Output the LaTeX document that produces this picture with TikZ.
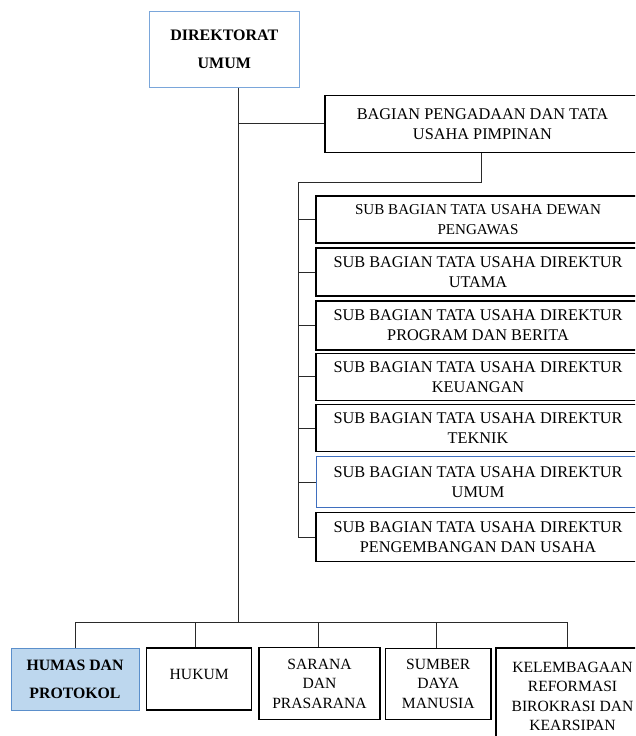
\documentclass[tikz,border=0pt]{standalone}
\usepackage{fontspec}
\setmainfont{Liberation Serif}
\definecolor{lightblueline}{HTML}{7AA6DA}
\definecolor{blueline}{HTML}{3F6FBF}
\definecolor{humasfill}{HTML}{BDD7EE}
\definecolor{humasline}{HTML}{5B8FCB}
\definecolor{conn}{HTML}{2A2A2A}
\begin{document}
\begin{tikzpicture}[x=1pt,y=-1pt,
  box/.style={draw=black,line width=1.1pt,inner sep=0pt,align=center,
    font=\fontsize{16.3}{20}\selectfont},
  subbox/.style={box,minimum width=324pt},
  botbox/.style={box,font=\fontsize{15.6}{19.5}\selectfont},
  link/.style={draw=conn,line width=0.9pt}]
\useasboundingbox (0,0) rectangle (635,736);
\clip (0,0) rectangle (635,736);
% top
\node[box,draw=lightblueline,line width=1pt,minimum width=150pt,minimum height=75.6pt,
  font=\bfseries\fontsize{16}{28}\selectfont] (dir) at (224.3,49.5) {DIREKTORAT\\UMUM};
\node[box,minimum width=315pt,minimum height=57.7pt] (bag) at (482.5,123.9)
  {BAGIAN PENGADAAN DAN TATA\\USAHA PIMPINAN};
% sub bagian
\node[subbox,minimum height=47pt,font=\fontsize{15.1}{20}\selectfont] (s1) at (478,219.5) {SUB BAGIAN TATA USAHA DEWAN\\PENGAWAS};
\node[subbox,minimum height=48pt] (s2) at (478,272) {SUB BAGIAN TATA USAHA DIREKTUR\\UTAMA};
\node[subbox,minimum height=49pt] (s3) at (478,325.5) {SUB BAGIAN TATA USAHA DIREKTUR\\PROGRAM DAN BERITA};
\node[subbox,minimum height=46.7pt] (s4) at (478,376.7) {SUB BAGIAN TATA USAHA DIREKTUR\\KEUANGAN};
\node[subbox,minimum height=47.4pt] (s5) at (478,428) {SUB BAGIAN TATA USAHA DIREKTUR\\TEKNIK};
\node[subbox,draw=blueline,line width=0.9pt,minimum height=51pt] (s6) at (478,482.2) {SUB BAGIAN TATA USAHA DIREKTUR\\UMUM};
\node[subbox,minimum height=49pt] (s7) at (478,537.2) {SUB BAGIAN TATA USAHA DIREKTUR\\PENGEMBANGAN DAN USAHA};
% bottom
\node[botbox,fill=humasfill,draw=humasline,line width=1pt,minimum width=128pt,minimum height=61.7pt,
  font=\bfseries\fontsize{15.8}{27.5}\selectfont] (humas) at (75,679.2) {HUMAS DAN\\PROTOKOL};
\node[botbox,minimum width=105pt,minimum height=62pt] (hukum) at (199.2,679) {\raisebox{10pt}{HUKUM}};
\node[botbox,minimum width=121pt,minimum height=71.6pt] (sarana) at (319.5,683.5) {SARANA\\DAN\\PRASARANA};
\node[botbox,minimum width=105.3pt,minimum height=71.3pt] (sumber) at (438.3,683.7) {SUMBER\\DAYA\\MANUSIA};
\node[botbox,minimum width=153pt,minimum height=97pt] (kel) at (572.5,696.5) {KELEMBAGAAN\\REFORMASI\\BIROKRASI DAN\\KEARSIPAN};
% connectors
\coordinate (bus) at (238.3,622.3);
\coordinate (spine) at (298.3,182);
\draw[link] (dir.south -| bus) -- (bus);
\draw[link] (bag.west) -- (bag.west -| bus);
\draw[link] (bag.south -| 481.7,0) -- (481.7,182) -- (spine) -- (spine |- s7.west) -- (s7.west);
\foreach \s in {s1,s2,s3,s4,s5,s6}{\draw[link] (spine |- \s.west) -- (\s.west);}
\draw[link] (humas.north) -- (humas.north |- bus) -- (567.7,622.3) -- (kel.north -| 567.7,0);
\draw[link] (hukum.north -| 195,0) -- (195,622.3);
\draw[link] (sarana.north -| 318.3,0) -- (318.3,622.3);
\draw[link] (sumber.north -| 436.7,0) -- (436.7,622.3);
\end{tikzpicture}
\end{document}
